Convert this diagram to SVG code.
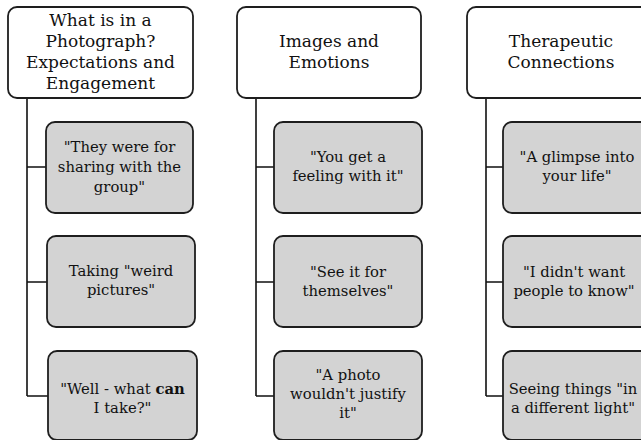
<svg xmlns="http://www.w3.org/2000/svg" width="641" height="440" viewBox="0 0 641 440">
<style>
.hdr{fill:#ffffff;stroke:#1e1e1e;stroke-width:1.8}
.item{fill:#d3d3d3;stroke:#1e1e1e;stroke-width:1.8}
.ht{font-family:'DejaVu Serif','Liberation Serif',serif;font-size:17px;fill:#111;text-anchor:middle}
.it{font-family:'DejaVu Serif','Liberation Serif',serif;font-size:14.8px;fill:#111;text-anchor:middle}
.conn{fill:none;stroke:#111;stroke-width:1.6}
</style>
<rect width="641" height="440" fill="#ffffff"/>
<g id="connectors">
<path class="conn" d="M27,98 V396 M27,167 H46 M27,282 H47 M27,396 H48"/>
<path class="conn" d="M256,98 V396 M256,167 H274 M256,282 H274 M256,396 H274"/>
<path class="conn" d="M486,98 V396 M486,167 H503 M486,282 H503 M486,396 H503"/>
</g>
<g id="h1">
<rect class="hdr" x="8" y="7" width="185" height="91" rx="9"/>
<text class="ht" x="100.5" y="26">What is in a</text>
<text class="ht" x="100.5" y="47">Photograph?</text>
<text class="ht" x="100.5" y="68">Expectations and</text>
<text class="ht" x="100.5" y="89">Engagement</text>
</g>
<g id="h2">
<rect class="hdr" x="237" y="7" width="184" height="91" rx="9"/>
<text class="ht" x="329" y="47">Images and</text>
<text class="ht" x="329" y="68">Emotions</text>
</g>
<g id="h3">
<rect class="hdr" x="467" y="7" width="188" height="91" rx="9"/>
<text class="ht" x="561" y="47">Therapeutic</text>
<text class="ht" x="561" y="68">Connections</text>
</g>
<g id="c1a">
<rect class="item" x="46" y="122" width="147" height="91" rx="9"/>
<text class="it" x="119.5" y="152">"They were for</text>
<text class="it" x="119.5" y="172">sharing with the</text>
<text class="it" x="119.5" y="192">group"</text>
</g>
<g id="c1b">
<rect class="item" x="47" y="236" width="148" height="91" rx="9"/>
<text class="it" x="121" y="276">Taking "weird</text>
<text class="it" x="121" y="295">pictures"</text>
</g>
<g id="c1c">
<rect class="item" x="48" y="351" width="149" height="89" rx="9"/>
<text class="it" x="122.5" y="394">"Well - what <tspan font-weight="bold">can</tspan></text>
<text class="it" x="122.5" y="413">I take?"</text>
</g>
<g id="c2a">
<rect class="item" x="274" y="122" width="148" height="91" rx="9"/>
<text class="it" x="348" y="162">"You get a</text>
<text class="it" x="348" y="181">feeling with it"</text>
</g>
<g id="c2b">
<rect class="item" x="274" y="236" width="148" height="91" rx="9"/>
<text class="it" x="348" y="277">"See it for</text>
<text class="it" x="348" y="296">themselves"</text>
</g>
<g id="c2c">
<rect class="item" x="274" y="351" width="148" height="89" rx="9"/>
<text class="it" x="348" y="380">"A photo</text>
<text class="it" x="348" y="399">wouldn't justify</text>
<text class="it" x="348" y="418">it"</text>
</g>
<g id="c3a">
<rect class="item" x="503" y="122" width="148" height="91" rx="9"/>
<text class="it" x="577" y="162">"A glimpse into</text>
<text class="it" x="577" y="181">your life"</text>
</g>
<g id="c3b">
<rect class="item" x="503" y="236" width="148" height="91" rx="9"/>
<text class="it" x="574" y="277">"I didn't want</text>
<text class="it" x="574" y="296">people to know"</text>
</g>
<g id="c3c">
<rect class="item" x="503" y="351" width="148" height="89" rx="9"/>
<text class="it" x="573" y="394">Seeing things "in</text>
<text class="it" x="573" y="413">a different light"</text>
</g>
</svg>
